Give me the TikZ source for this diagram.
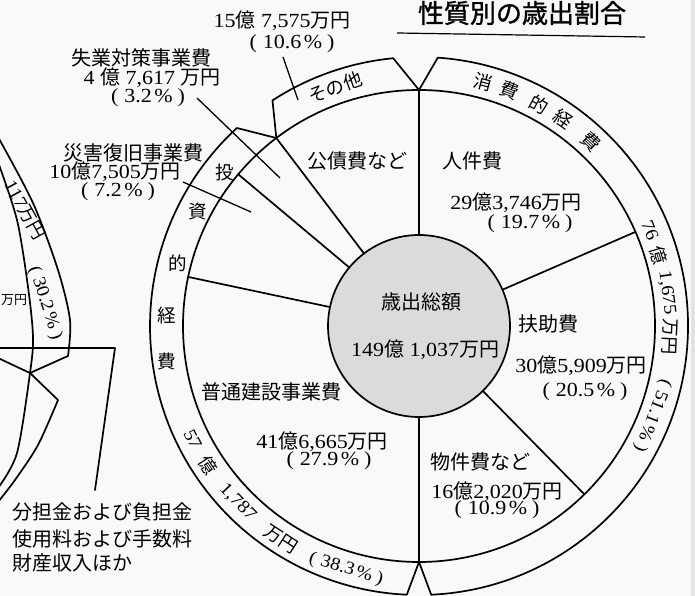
\documentclass[tikz,border=0pt]{standalone}
\usepackage{fontspec}
\setmainfont{Liberation Serif}[FakeStretch=1.1]
\newfontfamily\jp{Noto Sans CJK JP}
\newfontfamily\jpt{Noto Sans CJK JP}[FakeBold=1.2]
\newcommand\J[1]{{\jp #1}}
\newcommand\pc[1]{(\hspace{0.3em}#1\hspace{0.12em}\%\hspace{0.25em})}
\usetikzlibrary{calc}
\begin{document}
\begin{tikzpicture}[x=1pt,y=1pt,
  ln/.style={line width=1.7pt, line join=round, line cap=round},
  lead/.style={line width=1.3pt},
  lbl/.style={font=\fontsize{20}{22}\selectfont, inner sep=0pt},
  rtx/.style={font=\fontsize{18.5}{20}\selectfont, inner sep=0pt},
  rtn/.style={font=\fontsize{18}{20}\selectfont, inner sep=0pt},
  ttl/.style={font=\jpt\fontsize{26}{28}\selectfont, inner sep=0pt}]
\useasboundingbox (0,0) rectangle (695,596);
\fill[gray!5] (0,0) rectangle (695,596);
\fill[gray!22] (691,0) rectangle (695,596);
\def\RIn{91}\def\RMid{236}\def\ROut{269}
\coordinate (C) at (419,270);
% title
\node[ttl] (title) at (522,583) {性質別の歳出割合};
\coordinate (u1) at (397,563);
\coordinate (u2) at (645,559);
\draw[line width=1.2pt] (u1) -- (u2);
% rings
\draw[ln] (C) circle[radius=\RMid];
\draw[ln, fill=gray!28] (C) circle[radius=\RIn];
\foreach \a in {90,23.5,-45.5,-90,168,140,127.2}
  \draw[ln] ($(C)+(\a:\RIn)$) -- ($(C)+(\a:\RMid)$);
\draw[ln] ($(C)+(127.2:\RMid)$) -- ($(C)+(123:\ROut)$)
  arc[start angle=123,end angle=95.5,radius=\ROut] -- ($(C)+(90:\RMid)$);
\draw[ln] ($(C)+(90:\RMid)$) -- ($(C)+(86:\ROut)$)
  arc[start angle=86,end angle=-87.4,radius=\ROut] -- ($(C)+(-90:\RMid)$);
\draw[ln] ($(C)+(127.2:\RMid)$) -- ($(C)+(132.6:\ROut)$)
  arc[start angle=132.6,end angle=267.4,radius=\ROut] -- ($(C)+(-90:\RMid)$);
% centre
\node[lbl] (tot) at (421,294) {\J{歳出総額}};
\node[lbl] (totv) at (425,246) {149\J{億} 1,037\J{万円}};
% slices
\node[lbl] (jk) at (472,435) {\J{人件費}};
\node[lbl] (jkv) at (516,393) {29\J{億}3,746\J{万円}};
\node[lbl] (jkp) at (530,372) {\pc{19.7}};
\node[lbl] (fj) at (548,272) {\J{扶助費}};
\node[lbl] (fjv) at (581,230) {30\J{億}5,909\J{万円}};
\node[lbl] (fjp) at (585,204) {\pc{20.5}};
\node[lbl] (bk) at (480,134) {\J{物件費など}};
\node[lbl] (bkv) at (497,104) {16\J{億}2,020\J{万円}};
\node[lbl] (bkp) at (497,86) {\pc{10.9}};
\node[lbl] (fk) at (271,204) {\J{普通建設事業費}};
\node[lbl] (fkv) at (322,154) {41\J{億}6,665\J{万円}};
\node[lbl] (fkp) at (329,135) {\pc{27.9}};
\node[lbl] (kc) at (357,435) {\J{公債費など}};
% outside labels
\node[lbl] (ot) at (282,575) {15\J{億} 7,575\J{万円}};
\node[lbl] (otp) at (292,552) {\pc{10.6}};
\node[lbl] (sg) at (141,538) {\J{失業対策事業費}};
\node[lbl] (sgv) at (152,518) {4 \J{億} 7,617 \J{万円}};
\node[lbl] (sgp) at (148,498) {\pc{3.2}};
\node[lbl] (sh) at (133,443) {\J{災害復旧事業費}};
\node[lbl] (shv) at (115,424) {10\J{億}7,505\J{万円}};
\node[lbl] (shp) at (118,404) {\pc{7.2}};
\coordinate (a1) at (283,539); \coordinate (a2) at (298,496);
\coordinate (b1) at (197,498); \coordinate (b2) at (280,418);
\coordinate (c1) at (183,414); \coordinate (c2) at (251,384);
\draw[lead] (a1) -- (a2);
\draw[lead] (b1) -- (b2);
\draw[lead] (c1) -- (c2);
% ring texts
\node[rtx, rotate=19.4] (so) at ($(C)+(109.4:253)$) {\J{その他}};
\foreach \t/\a [count=\i] in {消/75.3,費/69,的/61.6,経/55.2,費/46.9}
  \node[rtx, rotate=\a-90] (sh\i) at ($(C)+(\a:252)$) {\J{\t}};
\foreach \t/\x/\y [count=\i] in {投/225/424,資/198/384,的/178/333,経/167/281,費/167/234}
  \node[rtx] (ts\i) at (\x,\y) {\J{\t}};
\node[rtn, rotate=22.4-90] (r1) at ($(C)+(22.4:250)$) {76};
\node[rtn, rotate=16.5-90] (r2) at ($(C)+(16.5:250)$) {\J{億}};
\node[rtn, rotate=7.6-90] (r3) at ($(C)+(7.6:250)$) {1,675};
\node[rtn, rotate=-2.5-90] (r4) at ($(C)+(-2.5:251)$) {\J{万円}};
\node[rtn, rotate=-21-90] (r5) at ($(C)+(-21:250)$) {\pc{51.1}};
\node[rtn, rotate=206.6+90] (l1) at ($(C)+(206.6:253)$) {57};
\node[rtn, rotate=213.4+90] (l2) at ($(C)+(213.4:253)$) {\J{億}};
\node[rtn, rotate=224.2+90] (l3) at ($(C)+(224.2:253)$) {1,787};
\node[rtn, rotate=237+90] (l4) at ($(C)+(237:254)$) {\J{万円}};
\node[rtn, rotate=253.3+90] (l5) at ($(C)+(253.3:254)$) {\pc{38.3}};
% partial chart on the left
\draw[ln] plot[smooth] coordinates {(-2,459)(33,393)(58,326)(70,276)(68,240)} -- (30,223);
\draw[ln] plot[smooth] coordinates {(-2,434)(17,376)(28,309)(33,259)(30,223)(17,143)(-2,108)};
\draw[ln] (30,223) -- (58,196) plot[smooth] coordinates {(58,196)(38,151)(15,116)(-2,94)};
\coordinate (h0) at (-2,248); \coordinate (h1) at (115,248); \coordinate (h2) at (95,106);
\draw[ln] (h0) -- (h1) -- (h2);
\coordinate (q0) at (-2,238); \coordinate (q1) at (30,223);
\draw[ln] (q0) -- (q1);
\node[rtn, rotate=-61] (p1) at (25,386) {117\J{万円}};
\node[rtn, rotate=-72] (p2) at (45,293) {\pc{30.2}};
\node[anchor=west, inner sep=0pt, font=\fontsize{13}{15}\selectfont] (p3) at (1,296) {\J{万円}};
\node[lbl, anchor=west] (f1) at (12,84) {\J{分担金および負担金}};
\node[lbl, anchor=west] (f2) at (12,57) {\J{使用料および手数料}};
\node[lbl, anchor=west] (f3) at (12,33) {\J{財産収入ほか}};
\end{tikzpicture}
\end{document}
